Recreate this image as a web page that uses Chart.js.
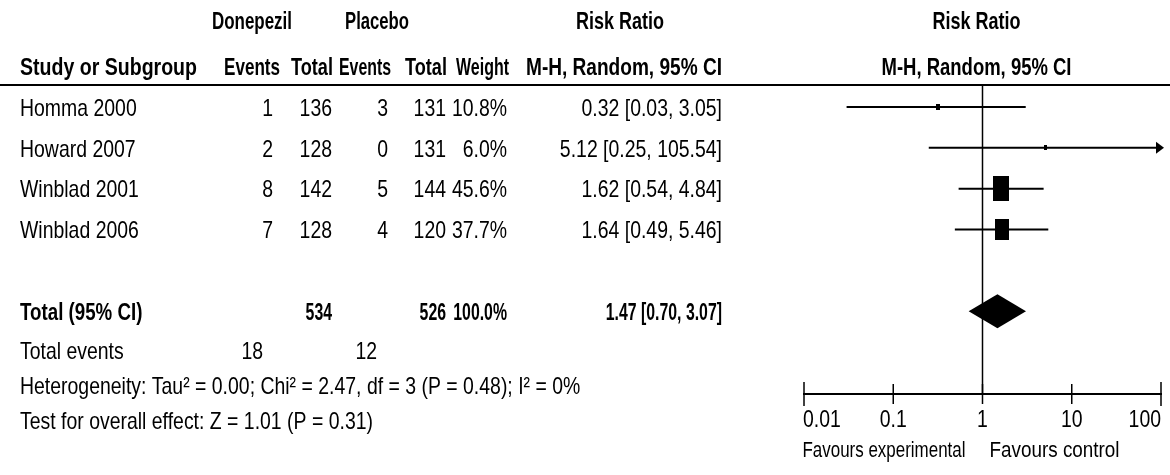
<!DOCTYPE html>
<html>
<head>
<meta charset="utf-8">
<script src="https://cdn.jsdelivr.net/npm/chart.js@4.4.1/dist/chart.umd.min.js"></script>
<style>
  html, body { margin: 0; padding: 0; background: #fff; }
  #wrap { width: 1170px; height: 475px; }
</style>
</head>
<body>
<div id="wrap"><canvas id="forest" width="1170" height="475"></canvas></div>
<script>
// Donepezil vs placebo: risk ratios per study (M-H, random effects)
const studies         = ['Homma 2000', 'Howard 2007', 'Winblad 2001', 'Winblad 2006'];
const donepezilEvents = [1, 2, 8, 7];
const donepezilTotal  = [136, 128, 142, 128];
const placeboEvents   = [3, 0, 5, 4];
const placeboTotal    = [131, 131, 144, 120];
const weights         = [10.8, 6.0, 45.6, 37.7];
const riskRatio       = [0.32, 5.12, 1.62, 1.64];
const ciLower         = [0.03, 0.25, 0.54, 0.49];
const ciUpper         = [3.05, 105.54, 4.84, 5.46];

// pooled estimate
const totalDonepezil       = 534;
const totalPlacebo         = 526;
const totalWeight          = 100.0;
const pooledRR             = 1.47;
const pooledLower          = 0.70;
const pooledUpper          = 3.07;
const totalEventsDonepezil = 18;
const totalEventsPlacebo   = 12;
const heterogeneityText = 'Heterogeneity: Tau\u00b2 = 0.00; Chi\u00b2 = 2.47, df = 3 (P = 0.48); I\u00b2 = 0%';
const overallEffectText = 'Test for overall effect: Z = 1.01 (P = 0.31)';

// x axis
const tickValues = [0.01, 0.1, 1, 10, 100];
const tickLabels = ['0.01', '0.1', '1', '10', '100'];
const favoursLeft  = 'Favours experimental';
const favoursRight = 'Favours control';

// ---- text drawing in a horizontally condensed face ----
const FAMILY = '"Liberation Sans", Arial, sans-serif';
const REG     = { size: 24, squeeze: 0.81, bold: false };
const BOLD    = { size: 24, squeeze: 0.78, bold: true };
const BOLDNUM = { size: 24, squeeze: 0.66, bold: true };
const SMALL   = { size: 22, squeeze: 0.80, bold: false };

// draws str with its vertical centre at cy; "fit" forces a total width
function put(ctx, str, x, cy, align, st, fit) {
  ctx.save();
  ctx.font = (st.bold ? 'bold ' : '') + st.size + 'px ' + FAMILY;
  ctx.fillStyle = '#000';
  ctx.textBaseline = 'alphabetic';
  ctx.textAlign = 'left';
  const raw = ctx.measureText(str).width;
  const k = fit ? fit / raw : st.squeeze;
  const w = raw * k;
  const left = align === 'right' ? x - w : (align === 'center' ? x - w / 2 : x);
  ctx.translate(left, cy + st.size * 0.36);
  ctx.scale(k, 1);
  ctx.fillText(str, 0, 0);
  ctx.restore();
}

const rowValue = i => i + 0.5;          // study rows, pooled row two rows further down
const pooledRow = studies.length + 1.5;
const fmt2 = v => v.toFixed(2);
const ciText = (rr, lo, hi) => fmt2(rr) + ' [' + fmt2(lo) + ', ' + fmt2(hi) + ']';

// study boxes: size grows with weight
function boxImage(weight) {
  const c = document.createElement('canvas');
  c.width = Math.max(3, Math.round(weight * 0.36));
  c.height = Math.max(5, Math.round(weight * 0.55));
  const g = c.getContext('2d');
  g.fillStyle = '#000';
  g.fillRect(0, 0, c.width, c.height);
  return c;
}
const boxes = weights.map(boxImage);

// table columns (right edges)
const COL = { dEv: 273, dTot: 332, pEv: 388, pTot: 446, wt: 507, rr: 722 };

const tablePlugin = {
  id: 'forestTable',
  beforeDatasetsDraw(chart) {
    const { ctx, chartArea, scales } = chart;
    const x1 = scales.x.getPixelForValue(1);
    ctx.save();
    ctx.strokeStyle = '#000';
    ctx.lineWidth = 1.5;
    ctx.beginPath();
    ctx.moveTo(x1, chartArea.top);
    ctx.lineTo(x1, chartArea.bottom);
    ctx.stroke();
    ctx.restore();
  },
  afterDatasetsDraw(chart) {
    const { ctx, chartArea, scales } = chart;
    const xs = scales.x, ys = scales.y;
    ctx.save();
    // pooled diamond
    const yp = ys.getPixelForValue(pooledRow);
    const half = 17;
    ctx.fillStyle = '#000';
    ctx.beginPath();
    ctx.moveTo(xs.getPixelForValue(pooledLower), yp);
    ctx.lineTo(xs.getPixelForValue(pooledRR), yp - half);
    ctx.lineTo(xs.getPixelForValue(pooledUpper), yp);
    ctx.lineTo(xs.getPixelForValue(pooledRR), yp + half);
    ctx.closePath();
    ctx.fill();
    // arrow where an interval runs past the axis
    ciUpper.forEach((hi, i) => {
      if (hi > xs.max) {
        const y = ys.getPixelForValue(rowValue(i));
        const xr = chartArea.right + 3;
        ctx.beginPath();
        ctx.moveTo(xr, y);
        ctx.lineTo(xr - 8, y - 6);
        ctx.lineTo(xr - 8, y + 6);
        ctx.closePath();
        ctx.fill();
      }
    });
    // tick marks crossing the axis line, with their labels
    ctx.strokeStyle = '#000';
    ctx.lineWidth = 1.5;
    const last = xs.ticks.length - 1;
    xs.ticks.forEach((t, k) => {
      const x = xs.getPixelForValue(t.value);
      const ext = (k === 0 || k === last) ? 12 : 10;
      ctx.beginPath();
      ctx.moveTo(x, chartArea.bottom - ext);
      ctx.lineTo(x, chartArea.bottom + ext);
      ctx.stroke();
      const label = tickLabels[tickValues.indexOf(t.value)];
      const align = k === 0 ? 'left' : (k === last ? 'right' : 'center');
      put(ctx, label, x + (k === 0 ? -1 : 0), chartArea.bottom + 24, align, REG);
    });
    ctx.restore();
  },
  afterDraw(chart) {
    const { ctx, chartArea, scales } = chart;
    const ys = scales.y;
    // rule under the header
    ctx.save();
    ctx.strokeStyle = '#000';
    ctx.lineWidth = 2;
    ctx.beginPath();
    ctx.moveTo(0, chartArea.top);
    ctx.lineTo(chart.width, chartArea.top);
    ctx.stroke();
    ctx.restore();

    // headers
    const h1 = 20, h2 = 66;
    const plotMid = (chartArea.left + chartArea.right) / 2;
    put(ctx, 'Donepezil', 252, h1, 'center', BOLD, 80);
    put(ctx, 'Placebo', 377, h1, 'center', BOLD, 64);
    put(ctx, 'Risk Ratio', 620, h1, 'center', BOLD, 88);
    put(ctx, 'Risk Ratio', plotMid - 6, h1, 'center', BOLD, 88);
    put(ctx, 'Study or Subgroup', 20, h2, 'left', BOLD, 177);
    put(ctx, 'Events', 280, h2, 'right', BOLD, 56);
    put(ctx, 'Total', 333, h2, 'right', BOLD, 42);
    put(ctx, 'Events', 391, h2, 'right', BOLD, 52);
    put(ctx, 'Total', 447, h2, 'right', BOLD, 42);
    put(ctx, 'Weight', 509, h2, 'right', BOLD, 53);
    put(ctx, 'M-H, Random, 95% CI', 722, h2, 'right', BOLD, 196);
    put(ctx, 'M-H, Random, 95% CI', plotMid - 6, h2, 'center', BOLD, 190);

    // study rows
    studies.forEach((name, i) => {
      const y = ys.getPixelForValue(rowValue(i));
      put(ctx, name, 20, y, 'left', REG);
      put(ctx, String(donepezilEvents[i]), COL.dEv, y, 'right', REG);
      put(ctx, String(donepezilTotal[i]), COL.dTot, y, 'right', REG);
      put(ctx, String(placeboEvents[i]), COL.pEv, y, 'right', REG);
      put(ctx, String(placeboTotal[i]), COL.pTot, y, 'right', REG);
      put(ctx, weights[i].toFixed(1) + '%', COL.wt, y, 'right', REG);
      put(ctx, ciText(riskRatio[i], ciLower[i], ciUpper[i]), COL.rr, y, 'right', REG);
    });

    // pooled row
    const yp = ys.getPixelForValue(pooledRow);
    put(ctx, 'Total (95% CI)', 20, yp, 'left', BOLD);
    put(ctx, String(totalDonepezil), COL.dTot, yp, 'right', BOLDNUM);
    put(ctx, String(totalPlacebo), COL.pTot, yp, 'right', BOLDNUM);
    put(ctx, totalWeight.toFixed(1) + '%', COL.wt, yp, 'right', BOLDNUM);
    put(ctx, ciText(pooledRR, pooledLower, pooledUpper), COL.rr, yp, 'right', BOLDNUM);

    // summary lines
    put(ctx, 'Total events', 20, 350, 'left', REG);
    put(ctx, String(totalEventsDonepezil), 263, 350, 'right', REG);
    put(ctx, String(totalEventsPlacebo), 377, 350, 'right', REG);
    put(ctx, heterogeneityText, 20, 385, 'left', REG);
    put(ctx, overallEffectText, 20, 420, 'left', REG);

    // favours captions either side of the line of no effect
    const x1 = scales.x.getPixelForValue(1);
    put(ctx, favoursLeft, x1 - 17, 449, 'right', SMALL, 163);
    put(ctx, favoursRight, x1 + 7, 449, 'left', SMALL, 130);
  }
};

// one line dataset per confidence interval
const ciSets = studies.map((name, i) => ({
  type: 'line',
  label: name,
  data: [{ x: ciLower[i], y: rowValue(i) }, { x: ciUpper[i], y: rowValue(i) }],
  borderColor: '#000',
  borderWidth: 2,
  pointRadius: 0,
  fill: false,
  clip: { left: 0, right: 0, top: 0, bottom: 0 }
}));

const boxSet = {
  type: 'scatter',
  label: 'Risk ratio',
  data: riskRatio.map((rr, i) => ({ x: rr, y: rowValue(i) })),
  pointStyle: ctx => boxes[ctx.dataIndex],
  pointRadius: 8,
  backgroundColor: '#000',
  borderColor: '#000'
};

new Chart(document.getElementById('forest'), {
  type: 'scatter',
  data: { datasets: [...ciSets, boxSet] },
  options: {
    responsive: false,
    devicePixelRatio: 1,
    animation: false,
    events: [],
    layout: { padding: { left: 804, right: 6, top: 85, bottom: 0 } },
    plugins: { legend: { display: false }, tooltip: { enabled: false } },
    scales: {
      x: {
        type: 'logarithmic',
        position: 'bottom',
        min: 0.01,
        max: 100,
        afterBuildTicks: s => { s.ticks = tickValues.map(v => ({ value: v })); },
        afterFit: s => { s.height = 81; },
        grid: { display: false, drawTicks: false },
        border: { display: true, color: '#000', width: 2 },
        ticks: { display: false }
      },
      y: {
        type: 'linear',
        display: false,
        reverse: true,
        min: -0.04,
        max: 7.53
      }
    }
  },
  plugins: [tablePlugin]
});
</script>
</body>
</html>
